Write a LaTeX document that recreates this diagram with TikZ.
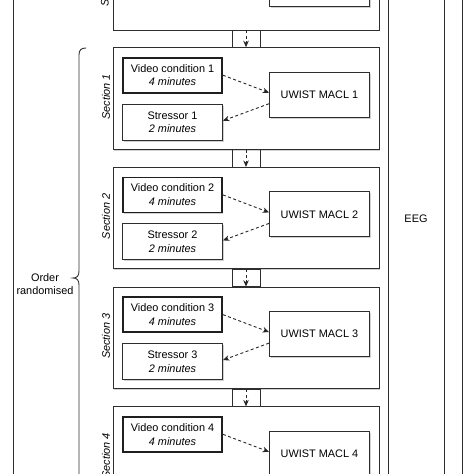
\documentclass[tikz,border=0pt]{standalone}
\usepackage{fontspec}
\setmainfont{Liberation Sans}
\usetikzlibrary{shadows,arrows.meta,calc}
\newcommand{\bfnt}{\fontsize{10.9}{13.8}\selectfont}
\begin{document}
\begin{tikzpicture}[x=1pt,y=-1pt,
  font=\bfnt,
  lc/.style={draw=black!82, line width=0.9pt},
  shad/.style={drop shadow={shadow xshift=1.3pt,shadow yshift=-1.3pt,opacity=0.18,fill=black}},
  secbox/.style={lc, fill=white, minimum width=266pt, minimum height=101.5pt, inner sep=0pt, shad},
  vidbox/.style={draw=black!88, line width=1.8pt, fill=white, minimum width=99pt, minimum height=35pt, align=center, inner sep=0pt, shad},
  strbox/.style={lc, fill=white, minimum width=100pt, minimum height=36pt, align=center, inner sep=0pt, shad},
  uwbox/.style={lc, fill=white, minimum width=100pt, minimum height=45pt, align=center, inner sep=0pt, shad},
  seclabel/.style={rotate=90, font=\bfnt\itshape, inner sep=0pt},
  dasharrow/.style={draw=black!85, line width=0.9pt, dash pattern=on 3pt off 2.5pt, -{Stealth[length=6.5pt,width=5.5pt]}},
  tube/.style={lc}
]
\useasboundingbox (0,0) rectangle (474,474);
\clip (0,0) rectangle (474,474);

% outer frame and EEG column
\node (frame) [lc, minimum width=449pt, minimum height=1000pt, inner sep=0pt] at (237.5,237) {};
\node (eeg) [lc, minimum width=56pt, minimum height=1000pt, inner sep=0pt, shad, fill=white] at (416,219) {EEG};

% brace
\draw[lc] (86,48) .. controls (81,48) and (79,50) .. (79,55) -- (79,271)
  .. controls (79,276) and (77,278) .. (73,278)
  .. controls (77,278) and (79,280) .. (79,285) -- (79,501)
  .. controls (79,506) and (81,508) .. (86,508);
\node (order) [align=center, inner sep=0pt] at (45,284) {Order\\randomised};

% top section (cropped)
\node (s0) [secbox] at (246,-20.75) {};
\node (u0) [uwbox] at (319.5,-16) {};
\node (l0) [seclabel, anchor=west] at (106,7) {Setup};

% sections 1-4
\foreach \k/\T in {1/47.7, 2/167.4, 3/287.1, 4/406.8} {
  \node (s\k) [secbox] at (246,\T+50.75) {};
  \node (l\k) [seclabel] at (106,\T+49) {Section \k};
  \node (v\k) [vidbox] at (172.5,\T+27.5) {Video condition \k\\\itshape 4 minutes};
  \node (u\k) [uwbox] at (319.5,\T+47) {UWIST MACL \k};
  \draw[dasharrow] (v\k.east) -- ([yshift=2pt]u\k.west);
}
\foreach \k/\T in {1/47.7, 2/167.4, 3/287.1} {
  \node (st\k) [strbox] at (172.5,\T+74.5) {Stressor \k\\\itshape 2 minutes};
  \draw[dasharrow] ([yshift=-9pt]u\k.west) -- ([yshift=1.5pt]st\k.east);
}

% connectors between sections
\foreach \a/\b in {0/1, 1/2, 2/3, 3/4} {
  \draw[tube] ([xshift=-14pt]s\a.south) rectangle ([xshift=14pt]s\b.north);
  \draw[dasharrow] (s\a.south) -- (s\b.north);
}
\end{tikzpicture}
\end{document}
